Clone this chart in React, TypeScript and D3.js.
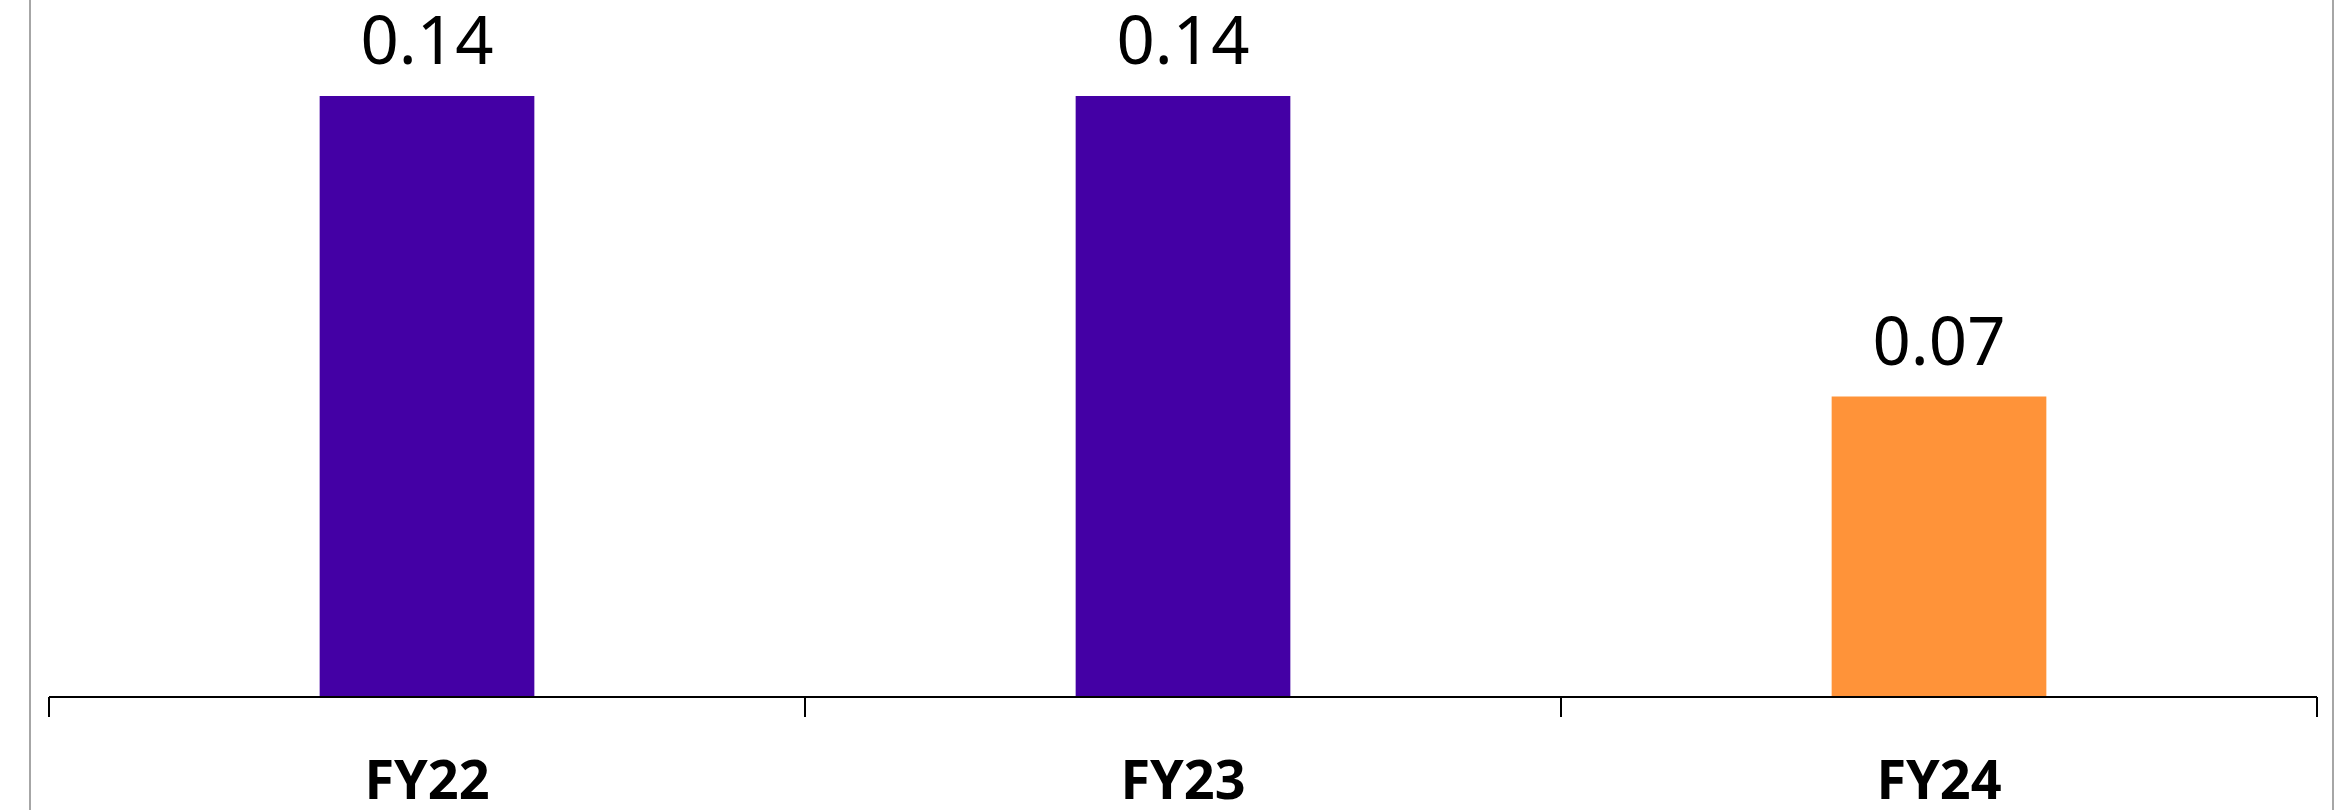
import { useEffect } from "react";
import * as d3 from "d3";

const CATEGORIES = ["FY22", "FY23", "FY24"];
const VALUES = [0.14, 0.14, 0.07];
const BAR_COLORS = ["#4400a5", "#4400a5", "#ff9339"];

export default function App() {
	useEffect(() => {
		const svg = d3.select("#bar-svg");
		svg.selectAll("*").remove();

		const width = 2345;
		const height = 810;

		// Plot area edges
		const left = 49;
		const right = 2317;
		const baseline = 697;
		const top = 96;

		// Frame lines of the chart box (cropped)
		[30, 2333].forEach(xPos => {
			svg.append("line")
				.attr("x1", xPos)
				.attr("x2", xPos)
				.attr("y1", 0)
				.attr("y2", height)
				.attr("stroke", "#a6a6a6")
				.attr("stroke-width", 2);
		});

		// X scale (categorical)
		const x = d3.scaleBand()
			.domain(CATEGORIES)
			.range([left, right])
			.paddingInner(0.716)
			.paddingOuter(0.358);

		// Band boundaries for ticks
		const step = x.step();
		const bandStart = (c: string) => x(c)! - step * 0.358;

		// Y scale
		const y = d3.scaleLinear()
			.domain([0, 0.14])
			.range([baseline, top]);

		const data = CATEGORIES.map((c, i) => ({ cat: c, value: VALUES[i], color: BAR_COLORS[i] }));

		// Bars
		svg.selectAll(".bar")
			.data(data)
			.enter()
			.append("rect")
			.attr("class", "bar")
			.attr("x", d => x(d.cat)!)
			.attr("y", d => y(d.value))
			.attr("width", x.bandwidth())
			.attr("height", d => baseline - y(d.value))
			.attr("fill", d => d.color);

		// Value labels
		svg.selectAll(".value-label")
			.data(data)
			.enter()
			.append("text")
			.attr("class", "value-label")
			.attr("x", d => x(d.cat)! + x.bandwidth() / 2)
			.attr("y", d => y(d.value) - 32)
			.attr("text-anchor", "middle")
			.attr("font-family", "'Noto Sans', sans-serif")
			.attr("font-size", "67px")
			.attr("fill", "#000")
			.text(d => d.value.toFixed(2));

		// Axis line
		svg.append("line")
			.attr("x1", left)
			.attr("x2", right)
			.attr("y1", baseline)
			.attr("y2", baseline)
			.attr("stroke", "#000")
			.attr("stroke-width", 2);

		// Tick marks between categories
		const tickXs = CATEGORIES.map(bandStart).concat([right]);
		svg.selectAll(".tick-mark")
			.data(tickXs)
			.enter()
			.append("line")
			.attr("class", "tick-mark")
			.attr("x1", d => d)
			.attr("x2", d => d)
			.attr("y1", baseline)
			.attr("y2", baseline + 20)
			.attr("stroke", "#000")
			.attr("stroke-width", 2);

		// Category labels
		svg.selectAll(".cat-label")
			.data(data)
			.enter()
			.append("text")
			.attr("class", "cat-label")
			.attr("x", d => x(d.cat)! + x.bandwidth() / 2)
			.attr("y", 799)
			.attr("text-anchor", "middle")
			.attr("font-family", "'Noto Sans', sans-serif")
			.attr("font-weight", "bold")
			.attr("font-size", "54px")
			.attr("fill", "#000")
			.text(d => d.cat);

		svg.attr("width", width).attr("height", height);
	}, []);

	return (
		<svg
			id="bar-svg"
			width={2345}
			height={810}
			style={{ position: "absolute", left: 0, top: 0, background: "#fff" }}
		/>
	);
}
